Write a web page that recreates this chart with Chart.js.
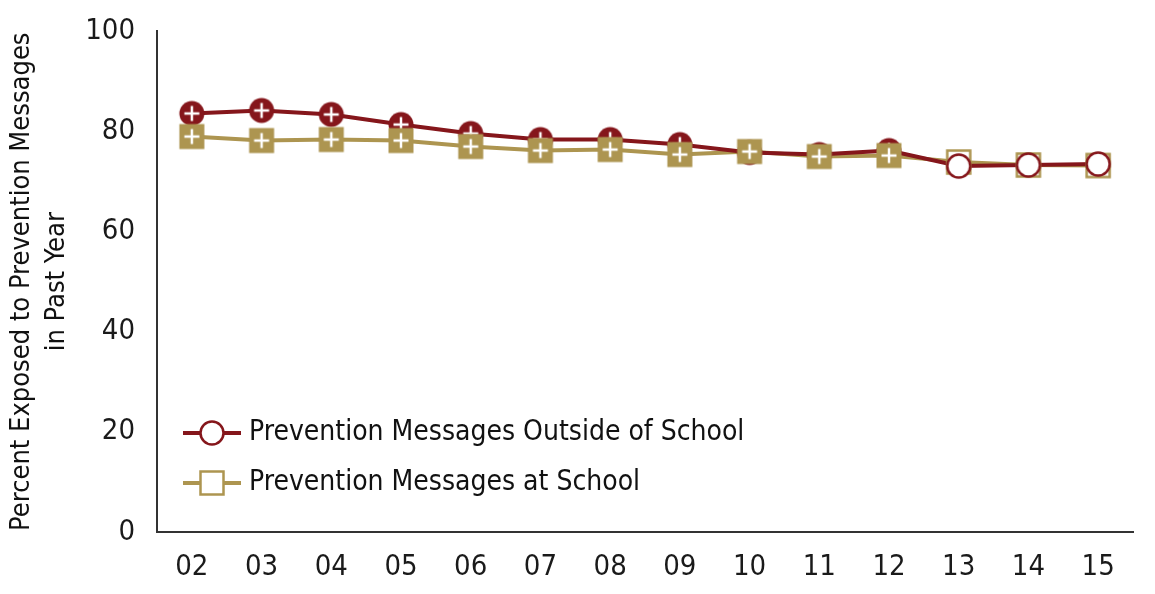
<!DOCTYPE html>
<html>
<head>
<meta charset="utf-8">
<script src="https://cdn.jsdelivr.net/npm/chart.js@4/dist/chart.umd.min.js"></script>
<style>
  html, body { margin: 0; padding: 0; background: #fff; }
  #wrap { width: 1155px; height: 594px; }
</style>
</head>
<body>
<div id="wrap"><canvas id="chart"></canvas></div>
<script>
// data
const YEARS = ['02', '03', '04', '05', '06', '07', '08', '09', '10', '11', '12', '13', '14', '15'];
const OUTSIDE = [83.6, 84.2, 83.4, 81.4, 79.6, 78.4, 78.4, 77.4, 75.8, 75.4, 76.2, 73.1, 73.3, 73.5];
const AT_SCHOOL = [79.0, 78.2, 78.4, 78.2, 77.0, 76.2, 76.4, 75.4, 76.0, 75.0, 75.2, 73.9, 73.3, 73.2];
const Y_TICKS = [0, 20, 40, 60, 80, 100];
const LEGEND = ['Prevention Messages Outside of School', 'Prevention Messages at School'];
const HOLLOW_FROM = 11; // 13 onward drawn open

const RED = '#85161b';
const TAN = '#ad9550';
const FONT = '"Liberation Sans Narrow", "DejaVu Sans Condensed", sans-serif';

function makeMarker(shape, color, filled) {
    const c = document.createElement('canvas');
    c.width = 28; c.height = 28;
    const g = c.getContext('2d');
    g.lineWidth = 2.5;
    g.beginPath();
    if (shape === 'circle') {
        g.arc(14, 14, filled ? 12.5 : 11.5, 0, Math.PI * 2);
    } else {
        if (filled) g.rect(1.5, 1.5, 25, 25); else g.rect(2.5, 2.5, 23, 23);
    }
    if (filled) {
        g.fillStyle = color; g.fill();
        g.strokeStyle = '#fff'; g.lineWidth = 2.5;
        g.beginPath();
        g.moveTo(14, 6.5); g.lineTo(14, 21.5);
        g.moveTo(6.5, 14); g.lineTo(21.5, 14);
        g.stroke();
    } else {
        g.fillStyle = '#fff'; g.fill();
        g.strokeStyle = color; g.stroke();
    }
    return c;
}

function legendIcon(shape, color) {
    const c = document.createElement('canvas');
    c.width = 62; c.height = 28;
    const g = c.getContext('2d');
    g.strokeStyle = color; g.lineWidth = 4;
    g.beginPath(); g.moveTo(2, 14); g.lineTo(60, 14); g.stroke();
    g.drawImage(makeMarker(shape, color, false), 17, 0);
    return c;
}

const redFull = makeMarker('circle', RED, true);
const redOpen = makeMarker('circle', RED, false);
const tanFull = makeMarker('rect', TAN, true);
const tanOpen = makeMarker('rect', TAN, false);

const insideLegend = {
    id: 'insideLegend',
    afterDraw(chart) {
        const ctx = chart.ctx;
        const icons = [legendIcon('circle', RED), legendIcon('rect', TAN)];
        const x0 = chart.chartArea.left + 24;
        const ys = [433, 483];
        ctx.save();
        ctx.font = '28px ' + FONT;
        ctx.fillStyle = '#111';
        ctx.textBaseline = 'middle';
        LEGEND.forEach((t, i) => {
            ctx.drawImage(icons[i], x0, ys[i] - 14);
            ctx.fillText(t, x0 + 68, ys[i]);
        });
        ctx.restore();
    }
};

// layering: tan line < red line + filled circles < tan squares < open circles
new Chart(document.getElementById('chart'), {
    type: 'line',
    data: {
        labels: YEARS,
        datasets: [{
            label: LEGEND[1] + ' line',
            data: AT_SCHOOL,
            borderColor: TAN,
            borderWidth: 4,
            pointRadius: 0,
            order: 5
        }, {
            label: LEGEND[0],
            data: OUTSIDE,
            borderColor: RED,
            borderWidth: 4,
            pointStyle: redFull,
            pointRadius: ctx => ctx.dataIndex >= HOLLOW_FROM ? 0 : 12,
            order: 4
        }, {
            label: LEGEND[1],
            data: AT_SCHOOL,
            showLine: false,
            pointStyle: ctx => ctx.dataIndex >= HOLLOW_FROM ? tanOpen : tanFull,
            pointRadius: 12,
            order: 3
        }, {
            label: LEGEND[0] + ' open',
            data: OUTSIDE.map((v, i) => i >= HOLLOW_FROM ? v : null),
            showLine: false,
            pointStyle: redOpen,
            pointRadius: 12,
            order: 2
        }]
    },
    options: {
        responsive: true,
        maintainAspectRatio: false,
        animation: false,
        layout: { padding: { top: 24, right: 22, left: 0, bottom: 0 } },
        plugins: {
            legend: { display: false },
            tooltip: { enabled: false }
        },
        scales: {
            x: {
                offset: true,
                grid: { display: false },
                border: { display: true, color: '#333', width: 2 },
                ticks: { color: '#1a1a1a', font: { family: FONT, size: 29 }, padding: 10, maxRotation: 0 },
                afterFit: s => { s.height = 62; }
            },
            y: {
                min: 0,
                max: 100,
                afterBuildTicks: s => { s.ticks = Y_TICKS.map(v => ({ value: v })); },
                grid: { display: false },
                border: { display: true, color: '#333', width: 2 },
                ticks: { color: '#1a1a1a', font: { family: FONT, size: 29 }, padding: 14 },
                title: {
                    display: true,
                    text: ['Percent Exposed to Prevention Messages', 'in Past Year'],
                    color: '#111',
                    font: { family: FONT, size: 27, lineHeight: 1.3 },
                    padding: { top: 4, bottom: 4 }
                },
                afterFit: s => { s.width = 157; }
            }
        }
    },
    plugins: [insideLegend]
});
</script>
</body>
</html>
